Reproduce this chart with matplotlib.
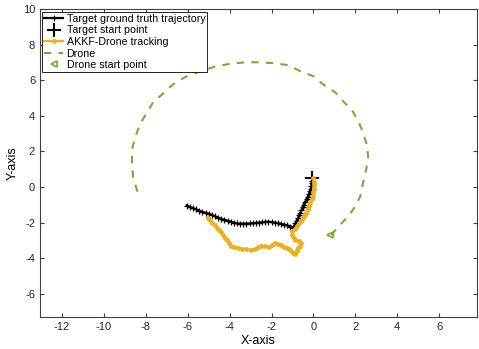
import numpy as np
import matplotlib.pyplot as plt

plt.rcParams['font.family'] = ['Liberation Sans', 'DejaVu Sans']
plt.rcParams['axes.unicode_minus'] = False

# target ground truth (from start point down, then to the left)
gt_x = [-0.05, -0.07, -0.08, -0.10, -0.13, -0.17, -0.22, -0.27, -0.33, -0.40,
        -0.47, -0.52, -0.57, -0.62, -0.68, -0.74, -0.80, -0.86, -0.92, -0.97,
        -1.10, -1.25, -1.40, -1.55, -1.70, -1.85, -2.00, -2.15, -2.30, -2.45,
        -2.60, -2.75, -2.90, -3.05, -3.20, -3.35, -3.50, -3.65, -3.80, -3.95,
        -4.10, -4.25, -4.40, -4.55, -4.70, -4.85, -5.00, -5.15, -5.30, -5.45,
        -5.60, -5.75, -5.90, -6.05]
gt_y = [0.50, 0.35, 0.20, 0.05, -0.10, -0.25, -0.40, -0.55, -0.70, -0.85,
        -1.00, -1.15, -1.30, -1.45, -1.60, -1.75, -1.90, -2.05, -2.20, -2.28,
        -2.22, -2.16, -2.11, -2.07, -2.03, -2.00, -1.97, -1.95, -1.96, -1.98,
        -2.00, -2.02, -2.04, -2.05, -2.06, -2.06, -2.06, -2.05, -2.00, -1.95,
        -1.90, -1.84, -1.80, -1.73, -1.65, -1.57, -1.50, -1.45, -1.40, -1.33,
        -1.26, -1.19, -1.12, -1.04]

# AKKF-Drone tracking estimate
akkf_x = [0.00, 0.02, 0.03, 0.01, 0.00, -0.03, -0.08, -0.14, -0.20, -0.27,
          -0.35, -0.42, -0.50, -0.60, -0.70, -0.80, -0.90, -1.00, -1.02, -0.95,
          -0.87, -0.70, -0.60, -0.65, -0.75, -0.80, -0.87, -0.98, -1.05, -1.15,
          -1.28, -1.40, -1.55, -1.70, -1.85, -1.98, -2.10, -2.30, -2.50, -2.65,
          -2.80, -3.00, -3.20, -3.40, -3.60, -3.80, -3.95, -4.05, -4.12, -4.20,
          -4.30, -4.40, -4.50, -4.60, -4.72, -4.84, -4.95, -5.03]
akkf_y = [0.50, 0.30, 0.10, -0.10, -0.30, -0.50, -0.70, -0.90, -1.05, -1.25,
          -1.45, -1.60, -1.75, -1.90, -2.05, -2.20, -2.35, -2.50, -2.68, -2.85,
          -3.00, -3.05, -3.15, -3.30, -3.45, -3.60, -3.78, -3.72, -3.60, -3.50,
          -3.42, -3.35, -3.25, -3.18, -3.13, -3.25, -3.35, -3.32, -3.30, -3.40,
          -3.47, -3.52, -3.50, -3.46, -3.42, -3.38, -3.30, -3.15, -3.00, -2.85,
          -2.70, -2.55, -2.40, -2.28, -2.12, -2.00, -1.85, -1.72]

# drone path
drone_x = [0.85, 1.28, 1.66, 1.99, 2.23, 2.37, 2.52, 2.61, 2.57, 2.37,
           2.14, 1.85, 1.42, 1.04, 0.46, -0.01, -0.63, -1.21, -1.92, -2.54,
           -3.26, -4.12, -4.79, -5.51, -6.13, -6.70, -7.22, -7.65, -7.94, -8.28,
           -8.51, -8.66, -8.66, -8.61, -8.47, -8.32]
drone_y = [-2.70, -2.11, -1.66, -1.10, -0.54, 0.25, 0.99, 1.66, 2.28, 3.07,
           3.69, 4.31, 4.82, 5.32, 5.77, 6.23, 6.51, 6.85, 6.96, 7.01,
           7.01, 6.90, 6.73, 6.45, 6.17, 5.77, 5.21, 4.76, 4.20, 3.52,
           2.79, 2.11, 1.38, 0.59, 0.03, -0.59]

target_start = (-0.05, 0.52)
drone_start = (0.78, -2.72)

fig = plt.figure(figsize=(4.79, 3.49), dpi=100)
ax = fig.add_axes([0.0835, 0.092, 0.912, 0.882])

ax.plot(gt_x, gt_y, '-+', color='black', lw=1.6, ms=4, mew=0.9,
        label='Target ground truth trajectory')
ax.plot(*target_start, '+', color='black', ms=10, mew=1.5, label='Target start point')
ax.plot(akkf_x, akkf_y, '.-', color='#EDB120', lw=1.6, ms=5,
        label='AKKF-Drone tracking')
ax.plot(drone_x, drone_y, '--', color='#77AC30', lw=1.5, dashes=(3.5, 3.5), label='Drone')
ax.plot(*drone_start, '<', color='#77AC30', mfc='none', ms=5, mew=1.2,
        label='Drone start point')

ax.set_xlim(-13.05, 7.8)
ax.set_ylim(-7.3, 10)
ax.set_xticks(np.arange(-12, 7, 2))
ax.set_yticks(np.arange(-6, 11, 2))
ax.tick_params(direction='in', top=True, right=True, labelsize=8, length=3,
               color='#404040', labelcolor='#262626')
for s in ax.spines.values():
    s.set_color('#404040')
    s.set_linewidth(0.8)
ax.set_xlabel('X-axis', fontsize=9, labelpad=2)
ax.set_ylabel('Y-axis', fontsize=9, labelpad=3)

leg = ax.legend(loc='upper left', bbox_to_anchor=(0.002, 0.995), fontsize=7.7,
                fancybox=False, framealpha=1, edgecolor='black',
                handlelength=1.8, handletextpad=0.3, labelspacing=0.15,
                borderpad=0.2, borderaxespad=0.1)
leg.get_frame().set_linewidth(0.6)

fig.savefig('out.png', dpi=100)
